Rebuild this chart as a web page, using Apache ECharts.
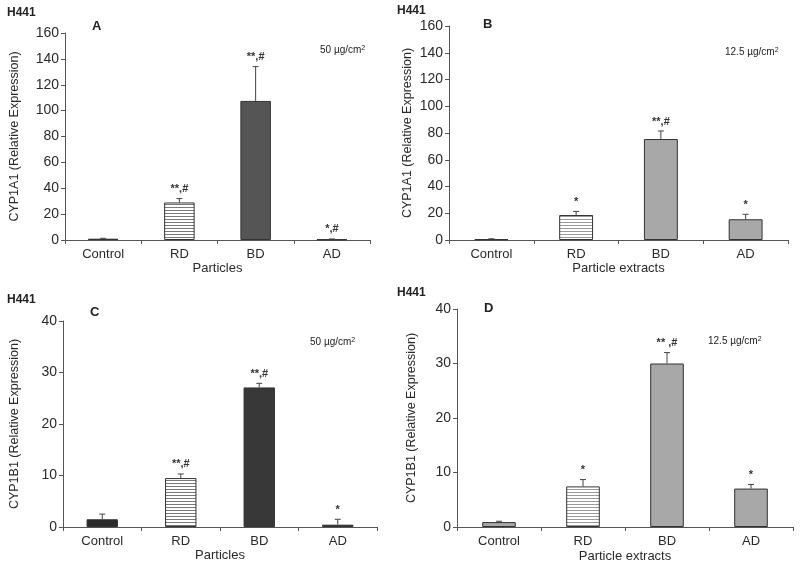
<!DOCTYPE html>
<html>
<head>
<meta charset="utf-8">
<script src="https://cdn.jsdelivr.net/npm/echarts@6/dist/echarts.min.js"></script>
<style>
html,body{margin:0;padding:0;background:#fff;}
#chart{width:800px;height:570px;}
</style>
</head>
<body>
<div id="chart"></div>
<script>
// ---------- data ----------
const categories = ['Control', 'RD', 'BD', 'AD'];

// Panel A: CYP1A1, particles 50 µg/cm2
const aValues = [1.0, 29, 107.5, 0.5];
const aErrors = [0.3, 3, 26.5, 0.3];
const aSig = ['', '**,#', '**,#', '*,#'];

// Panel B: CYP1A1, particle extracts 12.5 µg/cm2
const bValues = [0.6, 18.7, 75.5, 15.5];
const bErrors = [0.3, 2.7, 6, 3.7];
const bSig = ['', '*', '**,#', '*'];

// Panel C: CYP1B1, particles 50 µg/cm2
const cValues = [1.5, 9.5, 27.1, 0.45];
const cErrors = [1.0, 0.8, 0.8, 1.05];
const cSig = ['', '**,#', '**,#', '*'];

// Panel D: CYP1B1, particle extracts 12.5 µg/cm2
const dValues = [0.9, 7.45, 30.0, 7.05];
const dErrors = [0.15, 1.25, 2.0, 0.75];
const dSig = ['', '*', '** ,#', '*'];

const yTicksCYP1A1 = { min: 0, max: 160, interval: 20 };
const yTicksCYP1B1 = { min: 0, max: 40, interval: 10 };

// ---------- styles ----------
const FONT = '"Liberation Sans", Arial, sans-serif';
function stripes(line) {
  const c = document.createElement('canvas');
  c.width = 6; c.height = 3;
  const g = c.getContext('2d');
  g.fillStyle = '#ffffff'; g.fillRect(0, 0, 6, 3);
  g.fillStyle = line; g.fillRect(0, 0, 6, 1);
  return { image: c, repeat: 'repeat' };
}
const panels = [
  { values: aValues, errors: aErrors, sig: aSig, yt: yTicksCYP1A1,
    grid: { left: 65, top: 33, width: 305, height: 207 },
    yName: 'CYP1A1 (Relative Expression)', yGap: 44, xName: 'Particles', xGap: 17,
    fills: ['#2a2a2a', stripes('#7a7a7a'), '#555555', '#2a2a2a'] },
  { values: bValues, errors: bErrors, sig: bSig, yt: yTicksCYP1A1,
    grid: { left: 449, top: 26, width: 339, height: 214 },
    yName: 'CYP1A1 (Relative Expression)', yGap: 35, xName: 'Particle extracts', xGap: 17,
    fills: ['#a8a8a8', stripes('#9a9a9a'), '#a8a8a8', '#a8a8a8'] },
  { values: cValues, errors: cErrors, sig: cSig, yt: yTicksCYP1B1,
    grid: { left: 63, top: 321, width: 314, height: 206 },
    yName: 'CYP1B1 (Relative Expression)', yGap: 42, xName: 'Particles', xGap: 19,
    fills: ['#2a2a2a', stripes('#7a7a7a'), '#383838', '#2a2a2a'] },
  { values: dValues, errors: dErrors, sig: dSig, yt: yTicksCYP1B1,
    grid: { left: 457, top: 309, width: 336, height: 218 },
    yName: 'CYP1B1 (Relative Expression)', yGap: 39, xName: 'Particle extracts', xGap: 23,
    fills: ['#a8a8a8', stripes('#9a9a9a'), '#a8a8a8', '#a8a8a8'] }
];

const grids = [], xAxes = [], yAxes = [], series = [];
panels.forEach((p, i) => {
  grids.push(Object.assign({ containLabel: false }, p.grid));
  xAxes.push({
    type: 'category', gridIndex: i, data: categories, boundaryGap: true,
    axisLine: { lineStyle: { color: '#555', width: 1 } },
    axisTick: { show: true, length: 4, inside: false, lineStyle: { color: '#555' } },
    axisLabel: { color: '#2a2a2a', fontFamily: FONT, fontSize: 13, margin: 8 },
    name: p.xName, nameLocation: 'middle', nameGap: p.xGap,
    nameTextStyle: { color: '#2a2a2a', fontFamily: FONT, fontSize: 13 }
  });
  yAxes.push({
    type: 'value', gridIndex: i, min: p.yt.min, max: p.yt.max, interval: p.yt.interval,
    splitLine: { show: false },
    axisLine: { show: true, lineStyle: { color: '#555', width: 1 } },
    axisTick: { show: true, length: 4, lineStyle: { color: '#555' } },
    axisLabel: { color: '#2a2a2a', fontFamily: FONT, fontSize: 14, margin: 6 },
    name: p.yName, nameLocation: 'middle', nameGap: p.yGap, nameRotate: 90,
    nameTextStyle: { color: '#2a2a2a', fontFamily: FONT, fontSize: 12.5 }
  });
  series.push({
    type: 'bar', xAxisIndex: i, yAxisIndex: i, barWidth: '40%', silent: true,
    data: p.values.map((v, k) => ({
      value: v,
      itemStyle: { color: p.fills[k], borderColor: '#333', borderWidth: 1 }
    }))
  });
  series.push({
    type: 'custom', xAxisIndex: i, yAxisIndex: i, silent: true, z: 5,
    data: p.values.map((v, k) => [k, v, p.errors[k]]),
    renderItem: function (params, api) {
      const k = api.value(0), v = api.value(1), e = api.value(2);
      const label = p.sig[k];
      const base = api.coord([k, v]);
      const top = api.coord([k, v + e]);
      const cap = 3;
      const children = [
        { type: 'line', shape: { x1: base[0], y1: base[1], x2: top[0], y2: top[1] },
          style: { stroke: '#444', lineWidth: 1 } },
        { type: 'line', shape: { x1: top[0] - cap, y1: top[1], x2: top[0] + cap, y2: top[1] },
          style: { stroke: '#444', lineWidth: 1 } }
      ];
      if (label) {
        children.push({ type: 'text', x: top[0], y: top[1] - 4,
          style: { text: label, fill: '#333', font: 'bold 11px ' + FONT, align: 'center', verticalAlign: 'bottom' } });
      }
      return { type: 'group', children: children };
    }
  });
});

function txt(x, y, s, font) {
  return { type: 'text', left: x, top: y, style: { text: s, fill: '#222', font: font } };
}
const sup = { s: { fontSize: 7, verticalAlign: 'top', fill: '#222' } };
const graphics = [
  txt(7, 7, 'H441', 'bold 12px ' + FONT),
  txt(397, 5, 'H441', 'bold 12px ' + FONT),
  txt(7, 294, 'H441', 'bold 12px ' + FONT),
  txt(397, 287, 'H441', 'bold 12px ' + FONT),
  txt(92, 20, 'A', 'bold 13px ' + FONT),
  txt(483, 18, 'B', 'bold 13px ' + FONT),
  txt(90, 306, 'C', 'bold 13px ' + FONT),
  txt(484, 302, 'D', 'bold 13px ' + FONT),
  { type: 'text', left: 320, top: 45, style: { text: '50 µg/cm{s|2}', rich: sup, fill: '#222', font: '10px ' + FONT } },
  { type: 'text', left: 725, top: 47, style: { text: '12.5 µg/cm{s|2}', rich: sup, fill: '#222', font: '10px ' + FONT } },
  { type: 'text', left: 310, top: 337, style: { text: '50 µg/cm{s|2}', rich: sup, fill: '#222', font: '10px ' + FONT } },
  { type: 'text', left: 708, top: 336, style: { text: '12.5 µg/cm{s|2}', rich: sup, fill: '#222', font: '10px ' + FONT } }
];

const chart = echarts.init(document.getElementById('chart'), null, { renderer: 'canvas' });
chart.setOption({
  animation: false,
  backgroundColor: '#fff',
  grid: grids, xAxis: xAxes, yAxis: yAxes, series: series,
  graphic: graphics
});
</script>
</body>
</html>
